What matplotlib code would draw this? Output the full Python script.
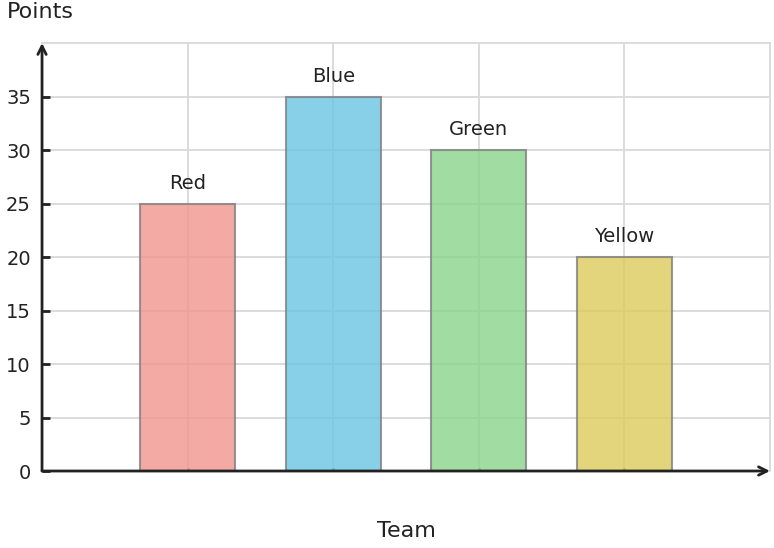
import matplotlib
matplotlib.use("Agg")
import matplotlib.pyplot as plt

teams = ["Red", "Blue", "Green", "Yellow"]
points = [25, 35, 30, 20]
colors = ["#f0958e", "#6ac5e3", "#8ad48c", "#dccb5a"]

fig = plt.figure(figsize=(7.74, 5.48), dpi=100)
ax = fig.add_axes([0.0543, 0.1405, 0.9405, 0.7810])

x = list(range(1, len(teams) + 1))
ax.bar(x, points, width=0.65, color=colors, alpha=0.8,
       edgecolor="#7f7f7f", linewidth=1.5, zorder=3)

for xi, v, name in zip(x, points, teams):
    ax.text(xi, v + 1, name, ha="center", va="bottom", fontsize=14, color="#222222")

ax.set_xlim(0, 5)
ax.set_ylim(0, 40)
ax.set_yticks(range(0, 40, 5))
ax.set_xticks(x)
ax.set_xticklabels([])

ax.grid(True, color="#d9d9d9", linewidth=1.3, zorder=0)
ax.set_axisbelow(True)

ax.tick_params(axis="y", direction="in", length=6, width=2, color="#222222",
               labelsize=14, labelcolor="#222222", pad=8)
ax.tick_params(axis="x", direction="in", length=2, width=2, color="#555555")

for side in ["top", "right"]:
    ax.spines[side].set_color("#d9d9d9")
    ax.spines[side].set_linewidth(1.3)
for side in ["left", "bottom"]:
    ax.spines[side].set_visible(False)

arrow = dict(arrowstyle="->", lw=2, color="#222222", shrinkA=0, shrinkB=0,
             mutation_scale=15)
ax.annotate("", xy=(0, 1), xytext=(0, 0), xycoords="axes fraction", arrowprops=arrow)
ax.annotate("", xy=(1, 0), xytext=(0, 0), xycoords="axes fraction", arrowprops=arrow)

fig.text(0.009, 0.978, "Points", ha="left", va="center", fontsize=16, color="#222222")
fig.text(0.5245, 0.031, "Team", ha="center", va="center", fontsize=16, color="#222222")

fig.savefig("out.png", dpi=100)
